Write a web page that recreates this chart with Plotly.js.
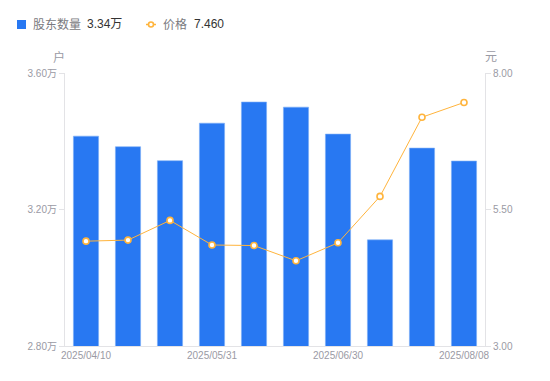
<!DOCTYPE html>
<html>
<head>
<meta charset="utf-8">
<script src="https://cdn.plot.ly/plotly-3.0.1.min.js"></script>
<style>html,body{margin:0;padding:0;background:#fff;}#chart{width:550px;height:381px;}</style>
</head>
<body>
<div id="chart"></div>
<script>
// Data
const dates = ["2025/04/10","2025/04/30","2025/05/20","2025/05/31","2025/06/10","2025/06/20","2025/06/30","2025/07/10","2025/07/31","2025/08/08"];
const holders = [3.415, 3.384, 3.343, 3.453, 3.515, 3.500, 3.421, 3.111, 3.380, 3.342]; // 万户
const prices = [4.92, 4.94, 5.30, 4.85, 4.84, 4.56, 4.89, 5.74, 7.19, 7.46];
const shownTicks = [0, 3, 6, 9];
const holderName = "股东数量";
const priceName = "价格";

const idx = dates.map((d, i) => i);
const L = 65, R = 485, T = 73, B = 346;
const px = x => (x - L) / (R - L);
const py = y => (B - y) / (B - T);

const barColor = "#2878f2";
const lineColor = "#ffb43c";
const tickColor = "#9a9aa4";
const axisColor = "#e3e3e6";
const fontFam = "'Liberation Sans', 'Noto Sans CJK SC', Arial, sans-serif";

const traces = [
  {
    type: "bar", x: idx, y: holders, name: holderName,
    marker: {color: barColor, line: {color: "#7fb0f6", width: 0.6}},
    yaxis: "y", hoverinfo: "skip"
  },
  {
    type: "scatter", mode: "lines+markers", x: idx, y: prices, name: priceName,
    line: {color: lineColor, width: 1},
    marker: {symbol: "circle", size: 6, color: "#ffffff", line: {color: lineColor, width: 1.6}},
    yaxis: "y2", hoverinfo: "skip"
  }
];

const lastHolder = holders[holders.length - 1].toFixed(2) + "万";
const lastPrice = prices[prices.length - 1].toFixed(3);

const layout = {
  width: 550, height: 381,
  margin: {l: L, r: 550 - R, t: T, b: 381 - B, pad: 0},
  paper_bgcolor: "#fff", plot_bgcolor: "#fff",
  showlegend: false,
  bargap: 0.4,
  font: {family: fontFam, size: 10, color: tickColor},
  xaxis: {
    type: "linear", range: [-0.5, dates.length - 0.5],
    tickmode: "array", tickvals: shownTicks, ticktext: shownTicks.map(i => dates[i]),
    showgrid: false, zeroline: false, showline: true, linecolor: axisColor, linewidth: 1,
    ticks: "", tickfont: {size: 10, color: tickColor}
  },
  yaxis: {
    range: [2.8, 3.6], tickmode: "array", tickvals: [2.8, 3.2, 3.6],
    ticktext: ["2.80万", "3.20万", "3.60万"],
    showgrid: false, zeroline: false, showline: true, linecolor: axisColor, linewidth: 1,
    ticks: "outside", ticklen: 5, tickcolor: axisColor, tickwidth: 1,
    tickfont: {size: 10, color: tickColor}
  },
  yaxis2: {
    range: [3, 8], overlaying: "y", side: "right", tickmode: "array", tickvals: [3, 5.5, 8],
    tickformat: ".2f",
    showgrid: false, zeroline: false, showline: true, linecolor: axisColor, linewidth: 1,
    ticks: "outside", ticklen: 5, tickcolor: axisColor, tickwidth: 1,
    tickfont: {size: 10, color: tickColor}
  },
  shapes: [
    {type: "rect", xref: "paper", yref: "paper", x0: px(17), x1: px(26), y0: py(29), y1: py(20), fillcolor: barColor, line: {width: 0}},
    {type: "line", xref: "paper", yref: "paper", x0: px(146), x1: px(156), y0: py(24.5), y1: py(24.5), line: {color: lineColor, width: 1.5}},
    {type: "circle", xref: "paper", yref: "paper", x0: px(148.5), x1: px(153.5), y0: py(27), y1: py(22), fillcolor: "#fff", line: {color: lineColor, width: 1.6}}
  ],
  annotations: [
    {xref: "paper", yref: "paper", x: px(31), y: py(24.5), xanchor: "left", yanchor: "middle", showarrow: false,
     text: holderName, font: {size: 12, color: "#7a7a80"}},
    {xref: "paper", yref: "paper", x: px(85), y: py(24.5), xanchor: "left", yanchor: "middle", showarrow: false,
     text: lastHolder, font: {size: 12, color: "#333"}},
    {xref: "paper", yref: "paper", x: px(161), y: py(24.5), xanchor: "left", yanchor: "middle", showarrow: false,
     text: priceName, font: {size: 12, color: "#7a7a80"}},
    {xref: "paper", yref: "paper", x: px(192), y: py(24.5), xanchor: "left", yanchor: "middle", showarrow: false,
     text: lastPrice, font: {size: 12, color: "#333"}},
    {xref: "paper", yref: "paper", x: px(58.5), y: py(57), xanchor: "center", yanchor: "middle", showarrow: false,
     text: "户", font: {size: 12, color: tickColor}},
    {xref: "paper", yref: "paper", x: px(490.5), y: py(57), xanchor: "center", yanchor: "middle", showarrow: false,
     text: "元", font: {size: 12, color: tickColor}}
  ]
};

Plotly.newPlot("chart", traces, layout, {staticPlot: true, displayModeBar: false});
</script>
</body>
</html>
